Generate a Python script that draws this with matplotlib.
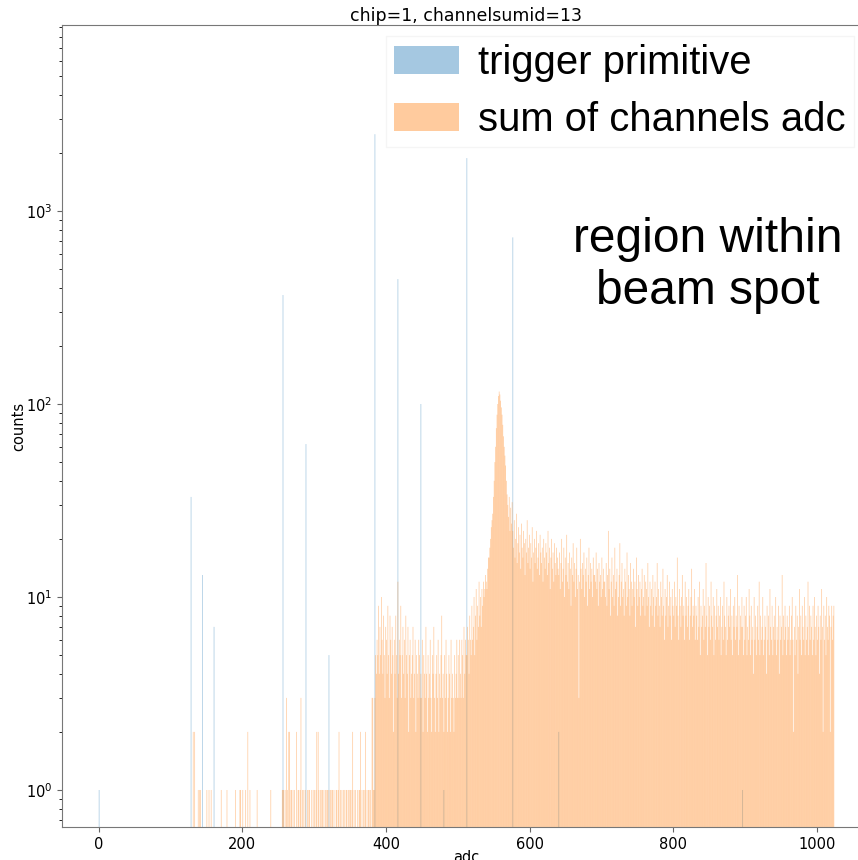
import matplotlib.pyplot as plt
import numpy as np

# trigger primitive counts (only a few populated bins)
tp_bins = [0, 128, 144, 160, 256, 288, 320, 384, 416, 448, 480, 512, 576, 640, 896]
tp_counts = [1, 33, 13, 7, 367, 62, 5, 2500, 444, 100, 1, 1880, 730, 2, 1]

# sum of channels adc: sparse low part below 384
low_ones = [138, 140, 141, 150, 153, 156, 170, 178, 190, 196, 197, 200, 204, 210,
            220, 239, 255, 256, 257, 259, 262, 267, 268, 270, 272, 277, 278, 280,
            283, 285, 287, 290, 292, 293, 296, 298, 300, 302, 306, 308, 310, 311,
            313, 315, 317, 318, 320, 322, 324, 325, 327, 330, 331, 333, 336, 338,
            340, 342, 344, 345, 347, 349, 350, 352, 355, 357, 360, 362, 363, 366,
            368, 370, 373, 375, 376, 378, 382, 383]
low_twos = [131, 133, 207, 264, 265, 275, 303, 305, 334, 353, 364, 371]
low_threes = [261, 281, 380, 381]

# sum of channels adc: dense part, one value per bin starting at 384
adc_384 = [3, 5, 4, 6, 5, 9, 4, 7, 5, 10, 6, 4, 8, 5, 3, 7, 6, 4, 9, 5, 3, 8, 6, 4, 7, 5, 2, 6, 4, 8, 5, 3,
           12, 4, 6, 5, 9, 3, 5, 7, 4, 6, 3, 8, 5, 4, 7, 2, 5, 6, 3, 4, 5, 7, 3, 4, 6, 2, 5, 4, 3, 6, 5, 3]
adc_448 = [4, 3, 6, 2, 5, 4, 3, 7, 4, 2, 5, 3, 4, 6, 3, 2, 5, 4, 7, 3, 2, 4, 5, 3, 6, 2, 4, 3, 5, 8, 3, 4,
           2, 5, 3, 6, 4, 2, 3, 5, 4, 2, 6, 3, 4, 3, 2, 5, 3, 4, 6, 3, 5, 3, 6, 4, 3, 6, 5, 3, 7, 4, 6, 5]
adc_512 = [5, 7, 6, 4, 8, 6, 5, 9, 6, 7, 10, 5, 8, 11, 6, 9, 7, 12, 8, 10, 7, 11, 9, 12, 10, 11, 13, 12, 11, 14, 16, 16,
           18, 20, 23, 25, 27, 33, 40, 50, 60, 75, 88, 100, 110, 116, 112, 104, 96, 88, 78, 68, 60, 54, 48, 40,
           34, 30, 26, 33, 22, 29, 24, 31]
adc_576 = [22, 18, 25, 16, 20, 27, 15, 19, 23, 17, 21, 14, 24, 18, 16, 22, 19, 13, 20, 17, 25, 15, 18, 21, 14, 19, 16, 23, 12, 17, 20, 15,
           18, 22, 14, 16, 19, 13, 21, 17, 15, 18, 12, 20, 16, 14, 19, 17, 13, 22, 15, 18, 11, 16, 20, 14, 17, 12, 19, 15, 13, 18, 16, 14]
adc_640 = [13, 17, 11, 15, 20, 12, 14, 18, 10, 16, 13, 21, 12, 15, 11, 17, 14, 9, 16, 13, 19, 12, 15, 10, 14, 18, 11, 13, 3, 12, 20, 14,
           11, 15, 13, 17, 10, 14, 12, 16, 9, 13, 18, 11, 15, 12, 14, 10, 16, 13, 13, 12, 17, 11, 14, 9, 15, 12, 13, 10, 16, 11, 14, 12]
adc_704 = [12, 10, 15, 9, 13, 22, 11, 14, 8, 12, 16, 10, 13, 9, 18, 11, 12, 14, 8, 10, 13, 19, 9, 12, 15, 10, 11, 8, 14, 12, 9, 17,
           10, 13, 11, 8, 15, 12, 9, 11, 14, 10, 12, 7, 16, 11, 9, 13, 10, 12, 8, 11, 14, 9, 10, 13, 8, 12, 11, 9, 15, 10, 7, 12]
adc_768 = [9, 11, 8, 13, 10, 7, 12, 9, 10, 15, 8, 11, 9, 7, 12, 10, 8, 14, 9, 6, 11, 8, 10, 13, 7, 9, 12, 8, 10, 6, 11, 9,
           8, 12, 7, 10, 9, 16, 8, 6, 11, 9, 7, 10, 13, 8, 9, 6, 12, 8, 10, 7, 9, 11, 6, 8, 10, 14, 7, 9, 8, 11, 6, 9]
adc_832 = [8, 6, 10, 7, 12, 5, 9, 7, 8, 11, 6, 9, 7, 15, 8, 5, 10, 7, 9, 6, 12, 8, 7, 10, 5, 9, 6, 8, 11, 7, 9, 6,
           8, 10, 5, 7, 9, 6, 12, 8, 7, 5, 10, 6, 8, 9, 7, 11, 6, 8, 5, 9, 7, 10, 6, 8, 7, 13, 5, 9, 6, 8, 7, 10]
adc_896 = [7, 5, 9, 6, 8, 10, 5, 7, 6, 11, 8, 5, 9, 6, 7, 4, 10, 6, 8, 5, 7, 9, 6, 12, 5, 8, 6, 7, 10, 5, 6, 8,
           7, 4, 9, 6, 8, 5, 11, 7, 6, 9, 5, 7, 8, 6, 10, 5, 7, 6, 9, 4, 8, 6, 7, 13, 5, 8, 6, 9, 7, 5, 8, 6]
adc_960 = [7, 9, 5, 6, 8, 10, 6, 2, 7, 5, 9, 6, 8, 4, 7, 11, 6, 8, 5, 9, 7, 6, 10, 5, 8, 6, 7, 12, 5, 9, 6, 8,
           7, 5, 9, 6, 10, 7, 5, 8, 6, 9, 7, 4, 8, 6, 11, 7, 2, 9, 6, 8, 5, 10, 7, 6, 9, 8, 2, 7, 9, 6, 8, 9]

edges = np.arange(0, 1025)

adc_counts = np.zeros(1024)
adc_counts[low_ones] = 1
adc_counts[low_twos] = 2
adc_counts[low_threes] = 3
dense = np.concatenate([adc_384, adc_448, adc_512, adc_576, adc_640,
                        adc_704, adc_768, adc_832, adc_896, adc_960])
adc_counts[384:384 + len(dense)] = dense[:1024 - 384]

tp_hist = np.zeros(1024)
tp_hist[tp_bins] = tp_counts

fig = plt.figure(figsize=(8.58, 8.6), dpi=100)
ax = fig.add_axes([62 / 858, 33 / 860, (871 - 62) / 858, (827 - 25) / 860])

_, _, tp_patches = ax.hist(edges[:-1], bins=edges, weights=tp_hist, alpha=0.4,
                           color="C0", label="trigger primitive", log=True)
_, _, adc_patches = ax.hist(edges[:-1], bins=edges, weights=adc_counts, alpha=0.4,
                            color="C1", label="sum of channels adc", log=True)
# keep sub-pixel bars from vanishing
for p in list(tp_patches) + list(adc_patches):
    p.set_snap(False)

ax.set_xlim(-51.2, 1075.2)
ax.set_ylim(0.643, 9200)
ax.set_title("chip=1, channelsumid=13", fontsize=12.5, pad=3)
ax.set_xlabel("adc", fontsize=10.5, labelpad=-1)
ax.set_ylabel("counts", fontsize=10.5, labelpad=0)
ax.tick_params(labelsize=10.5, colors="#666666", labelcolor="black")
for sp in ax.spines.values():
    sp.set_color("#777777")

leg = ax.legend(loc="upper left", bbox_to_anchor=(386 / 858, 1 - 36 / 860),
                bbox_transform=fig.transFigure, borderaxespad=0,
                prop={"family": "Liberation Sans", "size": 28.8},
                borderpad=0.2, handlelength=1.63, handletextpad=0.48,
                labelspacing=0.47, fancybox=False, framealpha=0.9,
                edgecolor="#f4f4f4")

fig.text(708 / 858, 1 - 265.5 / 860, "region within\nbeam spot", ha="center",
         va="center", fontsize=34.5, family="Liberation Sans")

fig.savefig("out.png", dpi=100)
